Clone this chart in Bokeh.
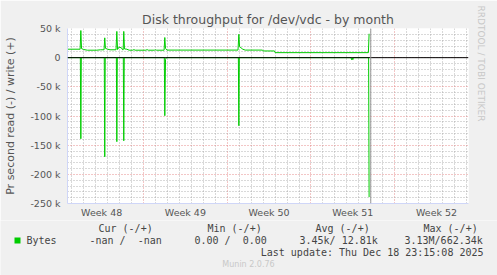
from bokeh.plotting import figure
from bokeh.layouts import column
from bokeh.models import Range1d, FixedTicker, Span, Title
from bokeh.core.properties import value
from bokeh.embed import file_html
from bokeh.resources import INLINE

# ---------------- data ----------------
# time axis: days since Mon 24 Nov 2025 00:00 (start of week 48)
write_days = [0.60, 1.70, 1.76, 1.82, 2.00, 2.30, 3.10, 3.40, 3.70, 3.76, 3.82, 4.00, 4.20,
              4.70, 4.77, 4.83, 4.95, 5.15, 5.25, 5.30, 5.35, 5.41, 5.60, 5.80, 6.10, 6.20,
              6.30, 7.20, 7.30, 7.40, 7.90, 8.00, 8.10, 8.72, 8.78, 8.84, 8.95, 14.90, 14.97,
              15.03, 15.15, 15.30, 15.50, 16.95, 17.00, 17.95, 18.00, 25.80, 25.86]
write_bps = [14500, 14500, 46500, 15500, 14000, 12800, 12800, 13500, 13500, 34000, 16000, 14500, 13500,
             13500, 45000, 14000, 18000, 17000, 13500, 13500, 45000, 15000, 14500, 12800, 12800, 13800,
             12800, 12800, 13800, 12800, 12800, 13500, 12800, 12800, 34500, 16000, 13000, 13000, 40000,
             19000, 17000, 14500, 13000, 13000, 11500, 11500, 8600, 8600, 41000]

read_days = [0.60, 1.72, 1.76, 1.80, 3.72, 3.76, 3.80, 4.73, 4.77, 4.81, 5.31, 5.35, 5.39,
             8.74, 8.78, 8.84, 8.90, 14.93, 14.97, 15.01, 24.35, 24.40, 24.45, 24.50, 24.55,
             25.82, 25.86]
read_bps = [0, 0, 139000, 0, 0, 170000, 0, 0, 144000, 0, 0, 142500, 0,
            0, 99500, 3000, 0, 0, 116700, 0, 0, 3500, 500, 3500, 0,
            0, 239000]

last_sample_day = 26.0

x_start, x_end = 0.645, 34.17
y_min, y_max = -250000, 50000

week_label_days = [3.5, 10.5, 17.5, 24.5, 31.5]
week_labels = ["Week 48", "Week 49", "Week 50", "Week 51", "Week 52"]
week_start_days = [7, 14, 21, 28]
day_ticks = [d for d in range(1, 35) if d not in week_start_days]

y_major = [-250000, -200000, -150000, -100000, -50000, 0, 50000]
y_labels = ["-250 k", "-200 k", "-150 k", "-100 k", "-50 k", "0", "50 k"]
y_minor = [v for v in range(-250000, 50001, 10000) if v not in y_major]

title_text = "Disk throughput for /dev/vdc - by month"
ylabel_text = "Pr second read (-) / write (+)"
legend_head = ["Cur (-/+)", "Min (-/+)", "Avg (-/+)", "Max (-/+)"]
legend_name = "Bytes"
legend_vals = ["-nan /  -nan", "0.00 /  0.00", "3.45k/ 12.81k", "3.13M/662.34k"]
last_update = "Last update: Thu Dec 18 23:15:08 2025"
watermark = "Munin 2.0.76"
side_text = "RRDTOOL / TOBI OETIKER"

# ---------------- main figure ----------------
W = 497
H_MAIN, H_FOOT = 220, 55
FL, FR, FT, FB = 67, 468, 28, 203

GREEN = "#00CC00"
FONT = "DejaVu Sans"
MONO = "DejaVu Sans Mono"
TXT = "#555555"
LEG = "#444444"
AXIS = "#CFD6F8"
BACK = "#F0F0F0"

p = figure(width=W, height=H_MAIN, output_backend="svg", toolbar_location=None,
           x_range=Range1d(x_start, x_end), y_range=Range1d(y_min, y_max),
           min_border_left=FL, min_border_right=W - FR, min_border_top=FT,
           min_border_bottom=H_MAIN - FB)
p.frame_align = False
p.background_fill_color = "#FFFFFF"
p.border_fill_color = BACK
p.outline_line_color = None

p.title.text = title_text
p.title.align = "center"
p.title.text_font = FONT
p.title.text_font_size = "12.5px"
p.title.text_font_style = "normal"
p.title.text_color = TXT
p.title.standoff = 3

p.add_layout(Title(text=side_text, align="left", text_font=FONT, text_font_size="9px",
                   text_font_style="normal", text_color="#C8C8C8", standoff=14,
                   offset=-23), "right")

# grids
xg = p.xgrid[0]
xg.ticker = FixedTicker(ticks=week_start_days, minor_ticks=day_ticks)
yg = p.ygrid[0]
yg.ticker = FixedTicker(ticks=y_major, minor_ticks=y_minor)
for g in (xg, yg):
    g.grid_line_color = "#E27070"
    g.grid_line_alpha = 0.8
    g.grid_line_dash = "1 2"
    g.grid_line_width = 1
    g.minor_grid_line_color = "#A0A0A0"
    g.minor_grid_line_alpha = 0.8
    g.minor_grid_line_dash = "1 2"
    g.minor_grid_line_width = 1

# axes
p.xaxis.ticker = FixedTicker(ticks=week_label_days)
p.xaxis.major_label_overrides = {d: l for d, l in zip(week_label_days, week_labels)}
p.yaxis.ticker = FixedTicker(ticks=y_major)
p.yaxis.major_label_overrides = {v: l for v, l in zip(y_major, y_labels)}
for ax in (p.xaxis[0], p.yaxis[0]):
    ax.axis_line_color = AXIS
    ax.major_tick_line_color = None
    ax.minor_tick_line_color = None
    ax.major_tick_out = 0
    ax.major_tick_in = 0
    ax.major_label_text_font = FONT
    ax.major_label_text_font_size = "9.5px"
    ax.major_label_text_color = TXT
p.yaxis.major_label_standoff = 7
p.xaxis.major_label_standoff = 3
p.yaxis.axis_label = ylabel_text
p.yaxis.axis_label_text_font = FONT
p.yaxis.axis_label_text_font_size = "11px"
p.yaxis.axis_label_text_font_style = "normal"
p.yaxis.axis_label_text_color = TXT
p.yaxis.axis_label_standoff = 10

# data
p.line(write_days, write_bps, line_color=GREEN, line_width=1)
p.line(read_days, [-v for v in read_bps], line_color=GREEN, line_width=1)
p.add_layout(Span(location=0, dimension="width", line_color="#000000", line_width=1))
p.add_layout(Span(location=last_sample_day, dimension="height", line_color="#999999", line_width=1))

# ---------------- footer (legend) ----------------
f = figure(width=W, height=H_FOOT, output_backend="svg", toolbar_location=None,
           x_range=Range1d(0, W), y_range=Range1d(H_MAIN + H_FOOT, H_MAIN),
           x_axis_location=None, y_axis_location=None, min_border=0)
f.frame_align = False
f.background_fill_color = BACK
f.border_fill_color = BACK
f.outline_line_color = None
f.grid.visible = False

NB = "\u00a0"
head_x = [98, 207, 315, 423]
f.text(x=head_x, y=[228] * 4, text=[t.replace(" ", NB) for t in legend_head],
       text_font=value(MONO), text_font_size="10px", text_color=LEG,
       text_baseline="middle", text_align="left")
f.text(x=[26] + [89, 194, 299, 404], y=[240] * 5,
       text=[t.replace(" ", NB) for t in [legend_name] + legend_vals],
       text_font=value(MONO), text_font_size="10px", text_color=LEG,
       text_baseline="middle", text_align="left")
f.text(x=[483], y=[251.5], text=[last_update.replace(" ", NB)], text_font=value(MONO),
       text_font_size="10px", text_color=LEG, text_baseline="middle", text_align="right")
f.text(x=[248], y=[264], text=[watermark], text_font=value(FONT),
       text_font_size="8px", text_color="#C8C8C8", text_baseline="middle", text_align="center")
f.quad(left=[14], right=[20], top=[237], bottom=[243], fill_color=GREEN, line_color=None)

layout = column(p, f, spacing=0)
open("out.html", "w").write(file_html(layout, INLINE))
